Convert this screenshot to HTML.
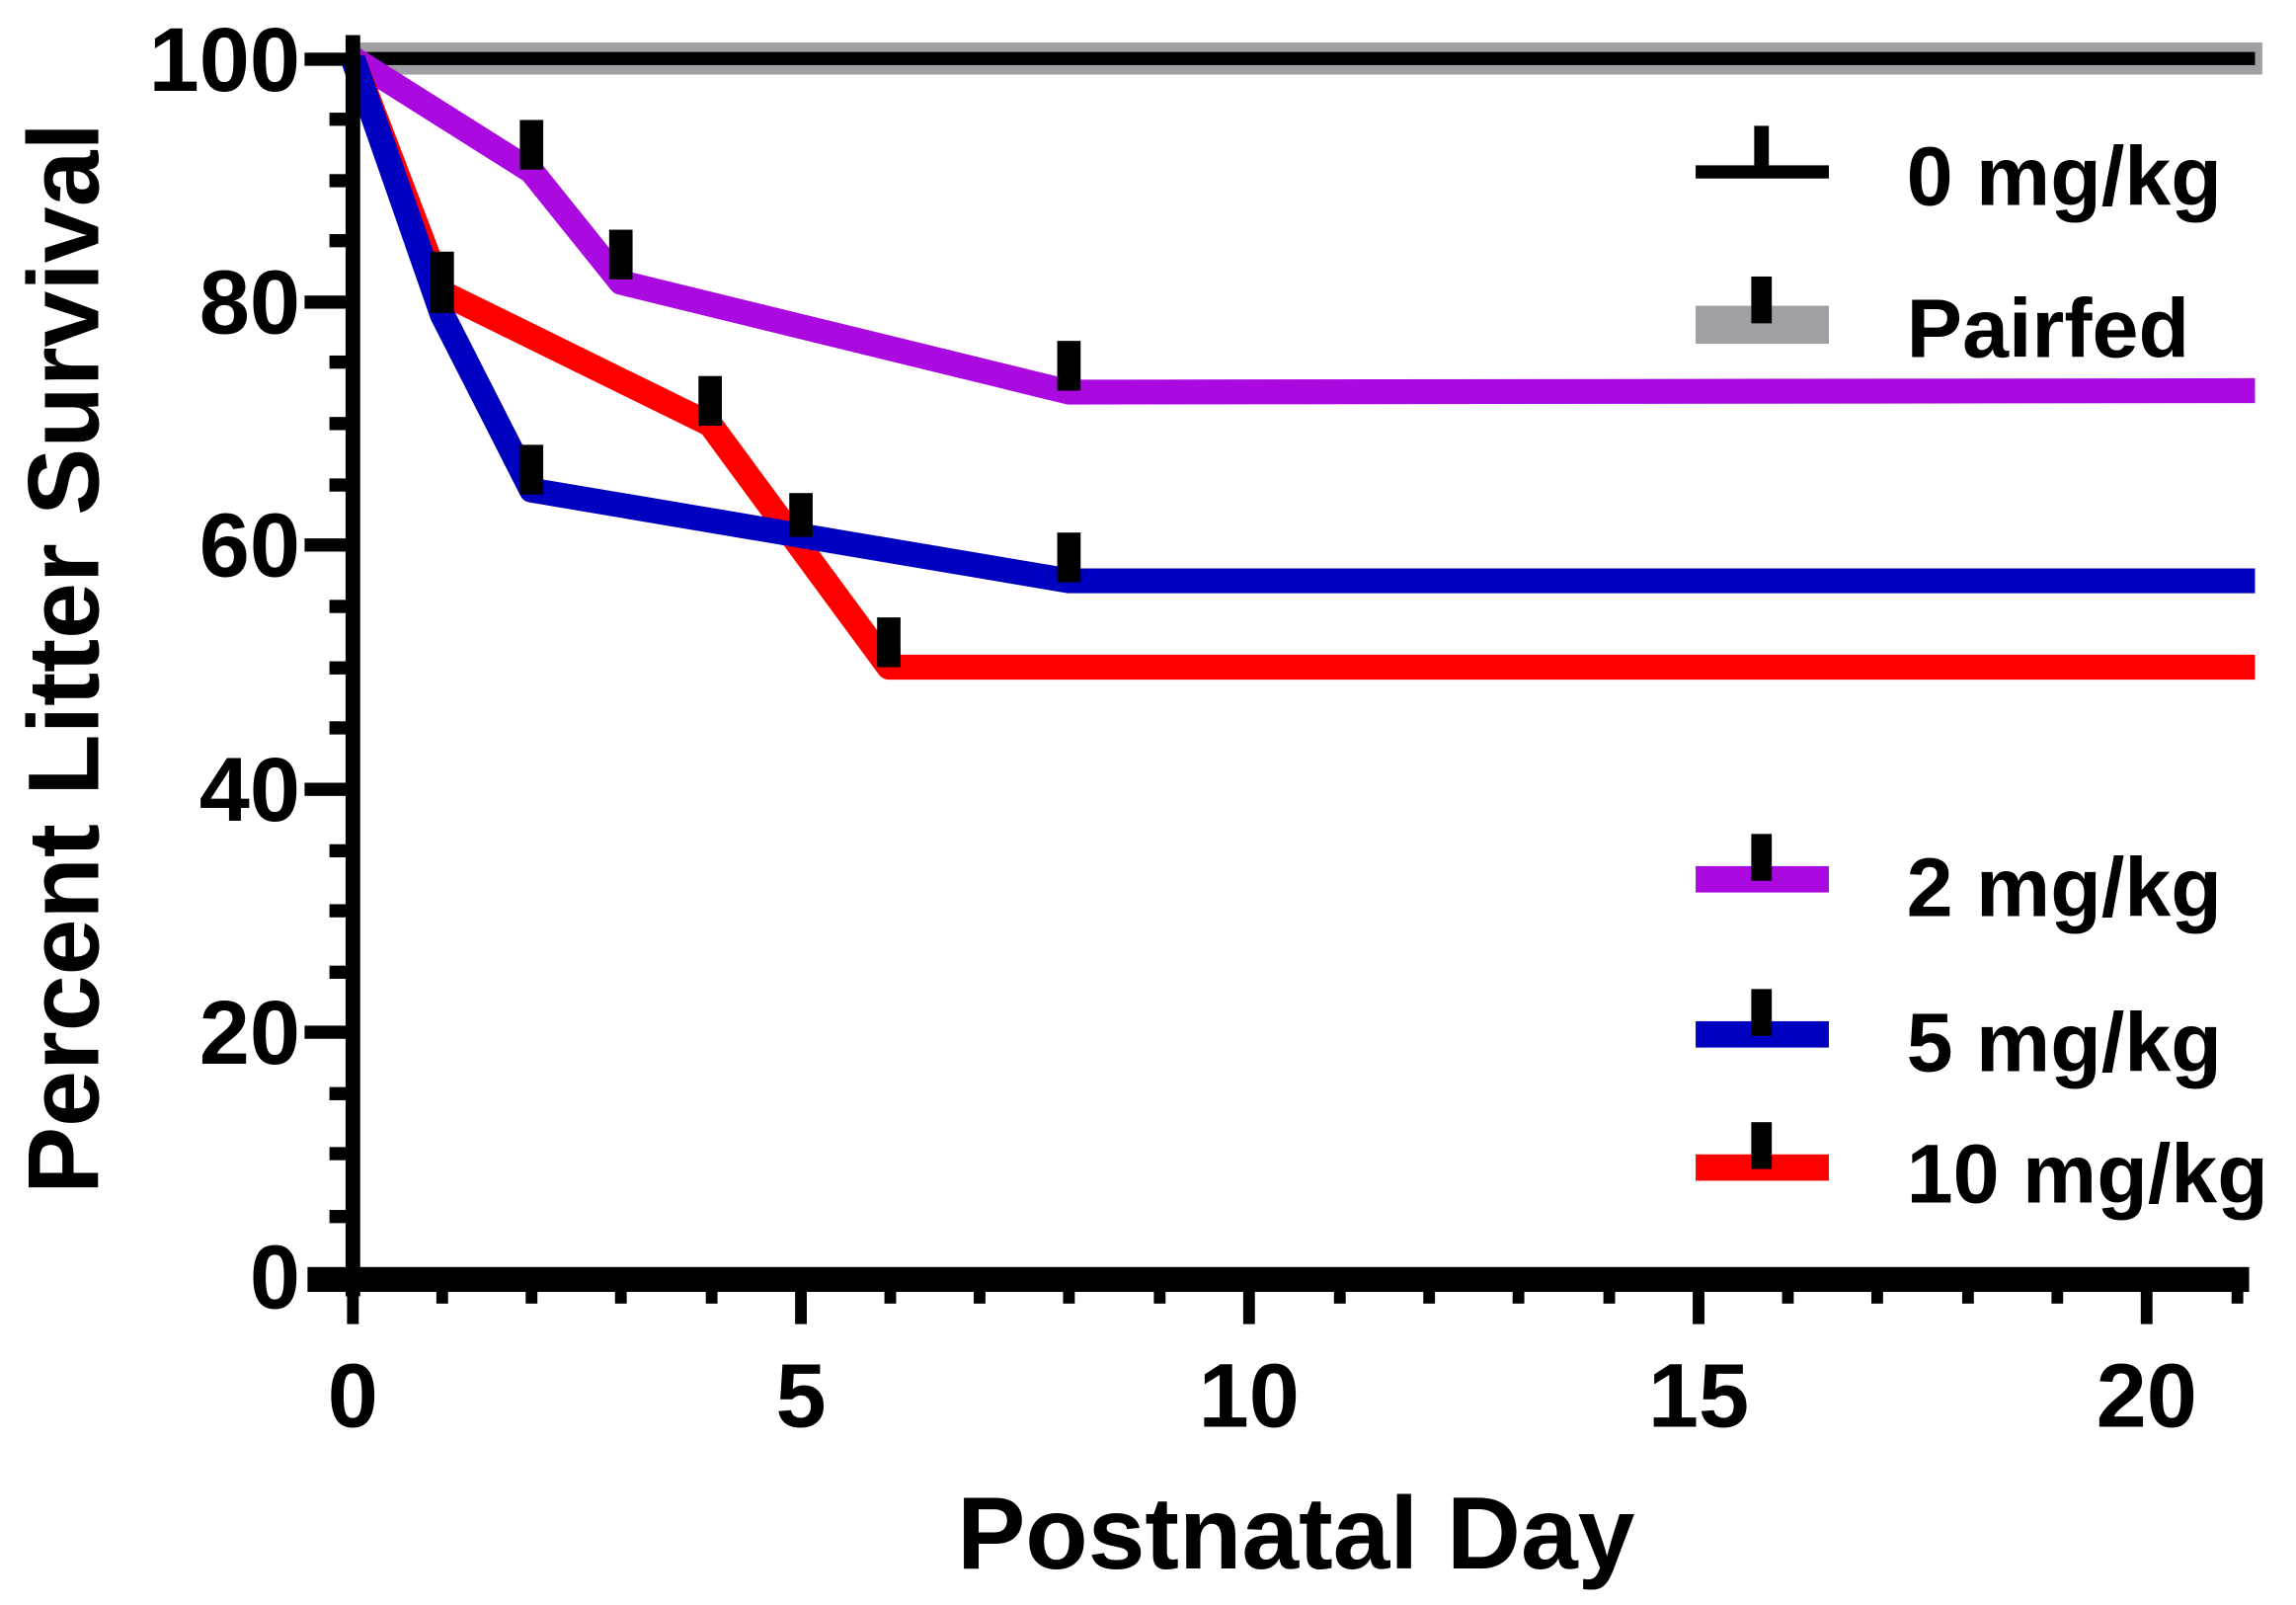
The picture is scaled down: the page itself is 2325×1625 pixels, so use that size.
<!DOCTYPE html>
<html><head><style>html,body{margin:0;padding:0;background:#fff}svg{display:block}</style></head>
<body>
<svg width="2325" height="1625" viewBox="0 0 1568 1097" preserveAspectRatio="none" xmlns="http://www.w3.org/2000/svg" font-family="Liberation Sans, Arial, sans-serif" font-weight="bold">
<rect width="1568" height="1097" fill="#fff"/>
<line x1="241" y1="40" x2="1545" y2="40" stroke="#a0a0a4" stroke-width="22"/>
<line x1="241" y1="40" x2="1540" y2="40" stroke="#000" stroke-width="9"/>
<polyline points="241,40 363,117 424,193 730,268 1540,267" fill="none" stroke="#aa0ae0" stroke-width="17" stroke-linejoin="round"/>
<polyline points="241,40 302,200 485,290 607,456 1540,456" fill="none" stroke="#ff0000" stroke-width="17" stroke-linejoin="round"/>
<polyline points="241,40 302,215 363,335 730,397 1540,397" fill="none" stroke="#0000c0" stroke-width="17" stroke-linejoin="round"/>
<g fill="#000">
<rect x="355" y="82" width="16" height="34"/>
<rect x="416" y="157" width="16" height="34"/>
<rect x="722" y="233" width="16" height="34"/>
<rect x="294" y="172" width="16" height="42"/>
<rect x="477" y="257" width="16" height="34"/>
<rect x="539" y="337" width="16" height="30"/>
<rect x="599" y="422" width="16" height="34"/>
<rect x="355" y="304" width="16" height="34"/>
<rect x="722" y="364" width="16" height="34"/>
</g>
<g fill="#000">
<rect x="236" y="24" width="10" height="862"/>
<rect x="210" y="866" width="1326" height="17"/>
<g>
<rect x="208" y="36" width="30" height="9"/>
<rect x="208" y="202" width="30" height="9"/>
<rect x="208" y="368" width="30" height="9"/>
<rect x="208" y="535" width="30" height="9"/>
<rect x="208" y="701" width="30" height="9"/>
<rect x="225" y="119" width="13" height="9"/>
<rect x="225" y="285" width="13" height="9"/>
<rect x="225" y="452" width="13" height="9"/>
<rect x="225" y="618" width="13" height="9"/>
<rect x="225" y="784" width="13" height="9"/>
<rect x="225" y="77" width="13" height="9"/>
<rect x="225" y="160" width="13" height="9"/>
<rect x="225" y="243" width="13" height="9"/>
<rect x="225" y="327" width="13" height="9"/>
<rect x="225" y="410" width="13" height="9"/>
<rect x="225" y="493" width="13" height="9"/>
<rect x="225" y="577" width="13" height="9"/>
<rect x="225" y="660" width="13" height="9"/>
<rect x="225" y="743" width="13" height="9"/>
<rect x="225" y="827" width="13" height="9"/>
</g>
<g>
<rect x="237" y="880" width="8" height="25"/>
<rect x="543" y="880" width="8" height="25"/>
<rect x="849" y="880" width="8" height="25"/>
<rect x="1156" y="880" width="8" height="25"/>
<rect x="1462" y="880" width="8" height="25"/>
<rect x="298" y="880" width="8" height="11"/><rect x="359" y="880" width="8" height="11"/><rect x="420" y="880" width="8" height="11"/><rect x="482" y="880" width="8" height="11"/>
<rect x="604" y="880" width="8" height="11"/><rect x="665" y="880" width="8" height="11"/><rect x="726" y="880" width="8" height="11"/><rect x="788" y="880" width="8" height="11"/>
<rect x="911" y="880" width="8" height="11"/><rect x="972" y="880" width="8" height="11"/><rect x="1033" y="880" width="8" height="11"/><rect x="1095" y="880" width="8" height="11"/>
<rect x="1217" y="880" width="8" height="11"/><rect x="1278" y="880" width="8" height="11"/><rect x="1340" y="880" width="8" height="11"/><rect x="1401" y="880" width="8" height="11"/>
<rect x="1524" y="880" width="8" height="11"/>
</g>
</g>
<g font-size="62" text-anchor="end" fill="#000">
<text x="205" y="62">100</text>
<text x="205" y="228">80</text>
<text x="205" y="394">60</text>
<text x="205" y="561">40</text>
<text x="205" y="727">20</text>
<text x="205" y="894">0</text>
</g>
<g font-size="62" text-anchor="middle" fill="#000">
<text x="241" y="975">0</text>
<text x="547" y="975">5</text>
<text x="853" y="975">10</text>
<text x="1160" y="975">15</text>
<text x="1466" y="975">20</text>
</g>
<text x="885" y="1072" font-size="70" text-anchor="middle">Postnatal Day</text>
<text transform="translate(67,450) rotate(-90)" font-size="69" text-anchor="middle">Percent Litter Survival</text>
<rect x="1158" y="113" width="91" height="9" fill="#000"/>
<rect x="1198" y="86" width="10" height="32" fill="#000"/>
<rect x="1158" y="209" width="91" height="26" fill="#a0a0a4"/>
<rect x="1196" y="189" width="14" height="32" fill="#000"/>
<rect x="1158" y="592" width="91" height="18" fill="#aa0ae0"/>
<rect x="1196" y="570" width="14" height="32" fill="#000"/>
<rect x="1158" y="698" width="91" height="18" fill="#0000c0"/>
<rect x="1196" y="676" width="14" height="32" fill="#000"/>
<rect x="1158" y="789" width="91" height="18" fill="#ff0000"/>
<rect x="1196" y="767" width="14" height="32" fill="#000"/>
<g font-size="57" fill="#000">
<text x="1302" y="140">0 mg/kg</text>
<text x="1302" y="244">Pairfed</text>
<text x="1302" y="626">2 mg/kg</text>
<text x="1302" y="732">5 mg/kg</text>
<text x="1302" y="822">10 mg/kg</text>
</g>
</svg>
</body></html>
